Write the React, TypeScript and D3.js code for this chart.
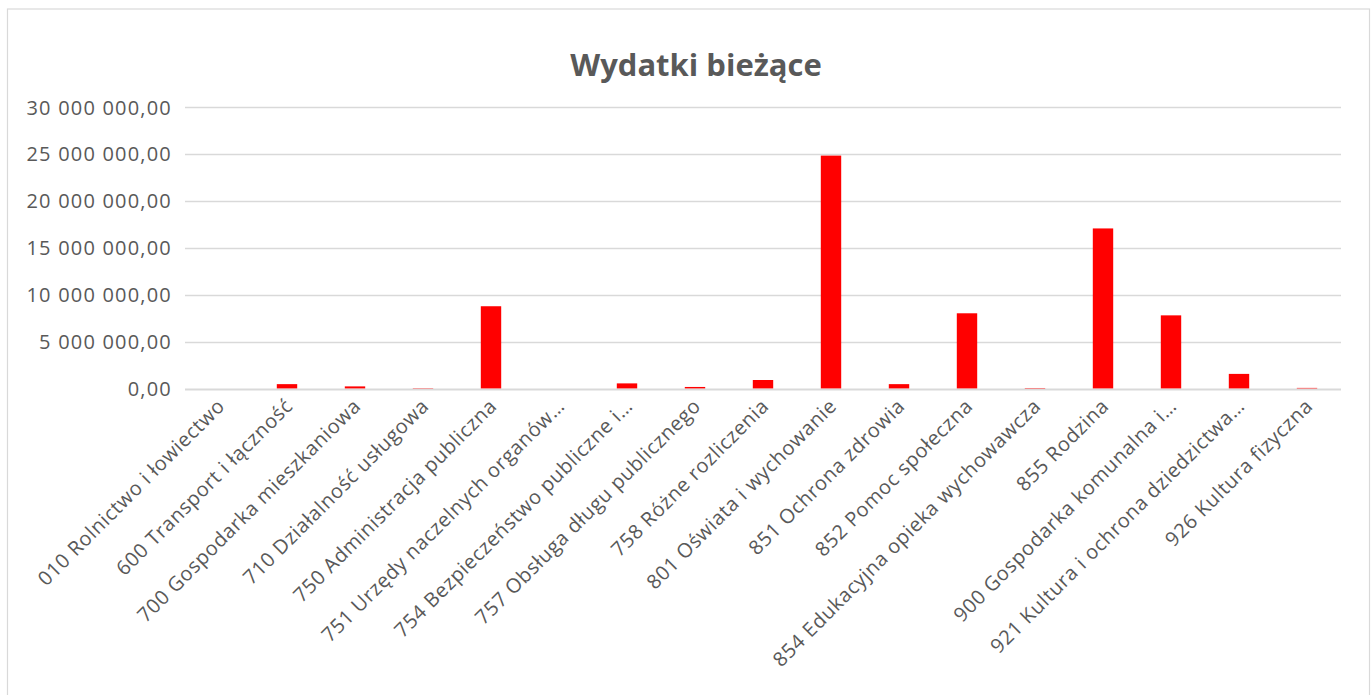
import React from "react";
import * as d3 from "d3";

const title = "Wydatki bieżące";
const categories = [
  "010 Rolnictwo i łowiectwo",
  "600 Transport i łączność",
  "700 Gospodarka mieszkaniowa",
  "710 Działalność usługowa",
  "750 Administracja publiczna",
  "751 Urzędy naczelnych organów…",
  "754 Bezpieczeństwo publiczne i…",
  "757 Obsługa długu publicznego",
  "758 Różne rozliczenia",
  "801 Oświata i wychowanie",
  "851 Ochrona zdrowia",
  "852 Pomoc społeczna",
  "854 Edukacyjna opieka wychowawcza",
  "855 Rodzina",
  "900 Gospodarka komunalna i…",
  "921 Kultura i ochrona dziedzictwa…",
  "926 Kultura fizyczna",
];
const values = [
  15000, 560000, 320000, 140000, 8850000, 5000, 640000, 260000, 1000000,
  24880000, 560000, 8100000, 150000, 17130000, 7880000, 1650000, 160000,
];
const yTicks = [0, 5000000, 10000000, 15000000, 20000000, 25000000, 30000000];

const W = 1371;
const H = 695;
const plot = { left: 185, right: 1341, top: 107.5, bottom: 389.4 };
const FONT = "'Open Sans', sans-serif";
const GREY = "#595959";

function fmt(v: number) {
  const s = Math.round(v).toString().replace(/\B(?=(\d{3})+(?!\d))/g, " ");
  return s + ",00";
}

export default function App() {
  const x = d3
    .scaleBand<string>()
    .domain(categories)
    .range([plot.left, plot.right])
    .paddingInner(0.7)
    .paddingOuter(0.35);
  const y = d3.scaleLinear().domain([0, 30000000]).range([plot.bottom, plot.top]);

  return (
    <svg
      width={W}
      height={H}
      style={{ position: "fixed", left: 0, top: 0, background: "#fff" }}
    >
      <rect x={0} y={0} width={W} height={H} fill="#fff" />
      <rect x={7.5} y={9} width={1362} height={H} fill="none" stroke="#d9d9d9" strokeWidth={1.2} />
      <text
        x={696}
        y={76}
        textAnchor="middle"
        fontFamily={FONT}
        fontWeight="bold"
        fontSize={31}
        fill={GREY}
      >
        {title}
      </text>
      {yTicks.map((t) => (
        <g key={t}>
          <line
            x1={plot.left}
            x2={plot.right}
            y1={y(t)}
            y2={y(t)}
            stroke="#d9d9d9"
            strokeWidth={t === 0 ? 2 : 1.5}
          />
          <text
            x={172}
            y={y(t)}
            dy="0.35em"
            textAnchor="end"
            fontFamily={FONT}
            fontSize={20}
            letterSpacing={1.2}
            fill={GREY}
          >
            {fmt(t)}
          </text>
        </g>
      ))}
      {categories.map((c, i) => (
        <rect
          key={c}
          x={x(c)!}
          y={y(values[i])}
          width={x.bandwidth()}
          height={plot.bottom - 1 - y(values[i]) > 0 ? plot.bottom - 1 - y(values[i]) : 0}
          fill="#ff0000"
        />
      ))}
      {categories.map((c) => {
        const cx = x(c)! + x.bandwidth() / 2;
        return (
          <text
            key={"l" + c}
            transform={`translate(${cx + 2},${plot.bottom + 13}) rotate(-45)`}
            textAnchor="end"
            dy="0.35em"
            fontFamily={FONT}
            fontSize={20}
            letterSpacing={0.6}
            fill={GREY}
          >
            {c}
          </text>
        );
      })}
    </svg>
  );
}
